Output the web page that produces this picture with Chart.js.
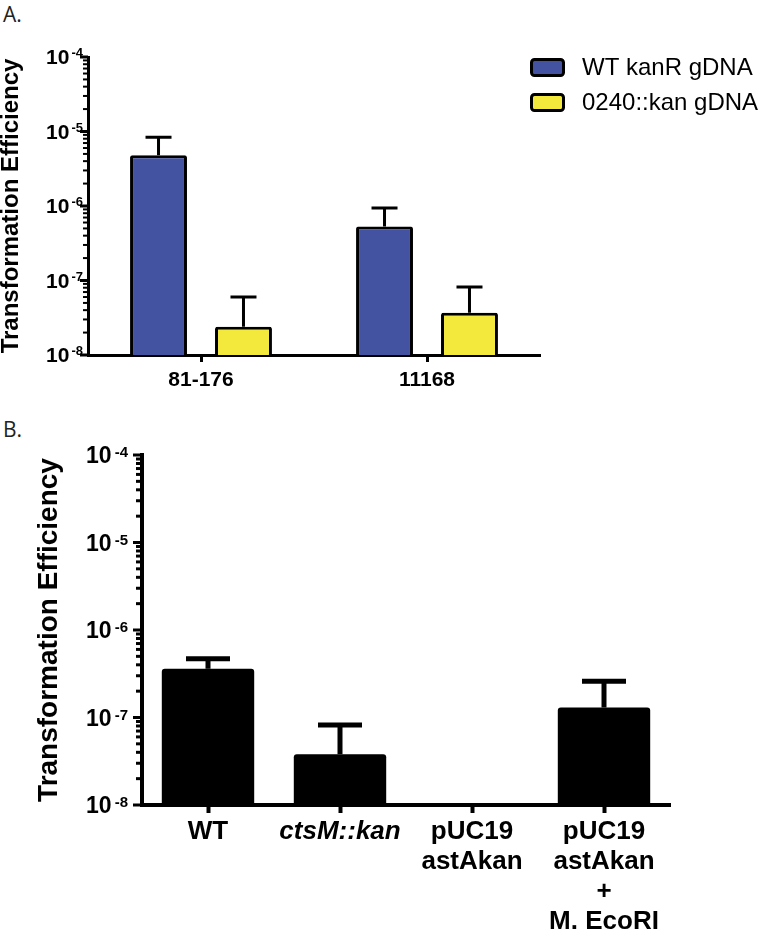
<!DOCTYPE html>
<html>
<head>
<meta charset="utf-8">
<script src="https://cdn.jsdelivr.net/npm/chart.js@4.4.1/dist/chart.umd.min.js"></script>
<style>
  body { margin: 0; background: #fff; width: 762px; height: 936px; position: relative; overflow: hidden; }
  canvas { position: absolute; left: 0; }
  #chartA { top: 0; }
  #chartB { top: 440px; }
  .panel { position: absolute; left: 3px; font: 21px "Open Sans", sans-serif; color: #222; line-height: 28px; }
</style>
</head>
<body>
<div class="panel" style="top:0px">A.</div>
<div class="panel" style="top:415px">B.</div>
<canvas id="chartA" width="762" height="440"></canvas>
<canvas id="chartB" width="762" height="496"></canvas>
<script>
// Panel A data
const strainsA = ["81-176", "11168"];
const wtKanR = [4.8e-6, 5.3e-7];
const wtKanRUpper = [8.4e-6, 9.4e-7];
const kan0240 = [2.4e-8, 3.7e-8];
const kan0240Upper = [6.0e-8, 8.2e-8];

// Panel B data
const strainsB = [["WT"], ["ctsM::kan"], ["pUC19", "astAkan"], ["pUC19", "astAkan", "+", "M. EcoRI"]];
const efficiencyB = [3.6e-7, 3.8e-8, null, 1.3e-7];
const efficiencyBUpper = [4.7e-7, 8.2e-8, null, 2.6e-7];

// log axis ticks
const decades = [-8, -7, -6, -5, -4];
const minorSteps = [2, 3, 4, 5, 6, 7, 8, 9];

const family = '"Liberation Sans", Arial, sans-serif';

// Log axis tick marks + 10^n labels
const logAxis = {
  id: "logAxis",
  afterDraw(chart, args, o) {
    const { ctx, chartArea, scales: { y } } = chart;
    const x0 = chartArea.left;
    ctx.save();
    ctx.strokeStyle = "#000";
    ctx.fillStyle = "#000";
    decades.forEach((exp, i) => {
      const yp = y.getPixelForValue(Math.pow(10, exp));
      ctx.lineWidth = o.majorWidth;
      ctx.beginPath();
      ctx.moveTo(x0, yp);
      ctx.lineTo(x0 - o.major, yp);
      ctx.stroke();

      const sup = String(exp);
      ctx.textAlign = "right";
      ctx.textBaseline = "alphabetic";
      ctx.font = `bold ${o.supSize}px ${family}`;
      const supX = x0 - o.gap;
      ctx.fillText(sup, supX, yp + o.supShift);
      const supW = ctx.measureText(sup).width;
      ctx.font = `bold ${o.size}px ${family}`;
      ctx.fillText("10", supX - supW - o.supGap, yp + o.baseShift);

      if (i < decades.length - 1) {
        ctx.lineWidth = o.minorWidth;
        minorSteps.forEach((m) => {
          const ym = y.getPixelForValue(m * Math.pow(10, exp));
          ctx.beginPath();
          ctx.moveTo(x0, ym);
          ctx.lineTo(x0 - o.minor, ym);
          ctx.stroke();
        });
      }
    });
    ctx.restore();
  },
};

// Upper error bars (mean + SD)
const errorBars = {
  id: "errorBars",
  afterDatasetsDraw(chart, args, o) {
    const { ctx, scales: { y } } = chart;
    ctx.save();
    ctx.strokeStyle = "#000";
    ctx.lineWidth = o.width;
    chart.data.datasets.forEach((ds, i) => {
      const meta = chart.getDatasetMeta(i);
      meta.data.forEach((bar, j) => {
        const hi = ds.upper[j];
        if (hi == null) return;
        const yh = y.getPixelForValue(hi);
        ctx.beginPath();
        ctx.moveTo(bar.x, bar.y);
        ctx.lineTo(bar.x, yh);
        ctx.moveTo(bar.x - o.cap / 2, yh);
        ctx.lineTo(bar.x + o.cap / 2, yh);
        ctx.stroke();
      });
    });
    ctx.restore();
  },
};

// Legend with outlined boxes
const boxLegend = {
  id: "boxLegend",
  afterDraw(chart, args, o) {
    if (!o.show) return;
    const ctx = chart.ctx;
    ctx.save();
    chart.data.datasets.forEach((ds, i) => {
      const top = o.y + i * o.step;
      ctx.beginPath();
      if (ctx.roundRect) ctx.roundRect(o.x + 1.5, top + 1.5, o.w - 3, o.h - 3, 3);
      else ctx.rect(o.x + 1.5, top + 1.5, o.w - 3, o.h - 3);
      ctx.fillStyle = ds.backgroundColor;
      ctx.fill();
      ctx.lineWidth = 3;
      ctx.strokeStyle = "#000";
      ctx.stroke();
      ctx.fillStyle = "#000";
      ctx.font = `24px ${family}`;
      ctx.textAlign = "left";
      ctx.textBaseline = "middle";
      ctx.fillText(ds.label, o.x + o.w + o.gap, top + o.h / 2 + 1);
    });
    ctx.restore();
  },
};

const chartA = new Chart(document.getElementById("chartA"), {
  type: "bar",
  data: {
    labels: strainsA,
    datasets: [
      {
        label: "WT kanR gDNA",
        data: wtKanR,
        upper: wtKanRUpper,
        backgroundColor: "#4353a2",
        borderColor: "#000",
        borderWidth: 3,
        borderRadius: 2,
      },
      {
        label: "0240::kan gDNA",
        data: kan0240,
        upper: kan0240Upper,
        backgroundColor: "#f2e93c",
        borderColor: "#000",
        borderWidth: 3,
        borderRadius: 2,
      },
    ],
  },
  options: {
    responsive: false,
    animation: false,
    layout: { padding: { left: 0, top: 57, right: 222, bottom: 0 } },
    datasets: { bar: { categoryPercentage: 0.752, barPercentage: 0.67 } },
    scales: {
      x: {
        border: { display: true, color: "#000", width: 3 },
        grid: { display: true, drawOnChartArea: false, offset: false, tickLength: 7, tickWidth: 3, tickColor: "#000" },
        ticks: { color: "#000", font: { family, size: 21, weight: "bold" }, padding: 6, maxRotation: 0, autoSkip: false },
        afterFit: (s) => { s.height = 85; },
      },
      y: {
        type: "logarithmic",
        min: 1e-8,
        max: 1e-4,
        border: { display: true, color: "#000", width: 3 },
        grid: { display: false },
        ticks: { display: false },
        title: {
          display: true,
          text: "Transformation Efficiency",
          color: "#000",
          font: { family, size: 24, weight: "bold" },
          padding: { top: -3, bottom: 0 },
        },
        afterFit: (s) => { s.width = 88; },
      },
    },
    plugins: {
      legend: { display: false },
      tooltip: { enabled: false },
      logAxis: { major: 8, minor: 5, majorWidth: 3, minorWidth: 2, size: 21, supSize: 13, gap: 5, supGap: 2, baseShift: 7, supShift: 0 },
      errorBars: { width: 3, cap: 26 },
      boxLegend: { show: true, x: 530, y: 58, w: 35, h: 19, step: 35, gap: 17 },
    },
  },
  plugins: [logAxis, errorBars, boxLegend],
});

const chartB = new Chart(document.getElementById("chartB"), {
  type: "bar",
  data: {
    labels: strainsB,
    datasets: [
      {
        label: "Transformation Efficiency",
        data: efficiencyB,
        upper: efficiencyBUpper,
        backgroundColor: "#000",
        borderWidth: 0,
        borderRadius: 3,
      },
    ],
  },
  options: {
    responsive: false,
    animation: false,
    layout: { padding: { left: 0, top: 15, right: 92, bottom: 0 } },
    datasets: { bar: { categoryPercentage: 1, barPercentage: 0.7 } },
    scales: {
      x: {
        border: { display: true, color: "#000", width: 4 },
        grid: { display: true, drawOnChartArea: false, offset: false, tickLength: 8, tickWidth: 4, tickColor: "#000" },
        ticks: {
          color: "#000",
          font: (c) => ({ family, size: 26, weight: "bold", style: c.index === 1 ? "italic" : "normal", lineHeight: 1.15 }),
          padding: 4,
          maxRotation: 0,
          autoSkip: false,
        },
        afterFit: (s) => { s.height = 131; },
      },
      y: {
        type: "logarithmic",
        min: 1e-8,
        max: 1e-4,
        border: { display: true, color: "#000", width: 4 },
        grid: { display: false },
        ticks: { display: false },
        title: {
          display: true,
          text: "Transformation Efficiency",
          color: "#000",
          font: { family, size: 28, weight: "bold" },
          padding: { top: 32, bottom: 0 },
        },
        afterFit: (s) => { s.width = 142; },
      },
    },
    plugins: {
      legend: { display: false },
      tooltip: { enabled: false },
      logAxis: { major: 9, minor: 6, majorWidth: 3, minorWidth: 3, size: 23, supSize: 15, gap: 14, supGap: 3, baseShift: 8, supShift: 2 },
      errorBars: { width: 5, cap: 44 },
      boxLegend: { show: false },
    },
  },
  plugins: [logAxis, errorBars, boxLegend],
});
</script>
</body>
</html>
